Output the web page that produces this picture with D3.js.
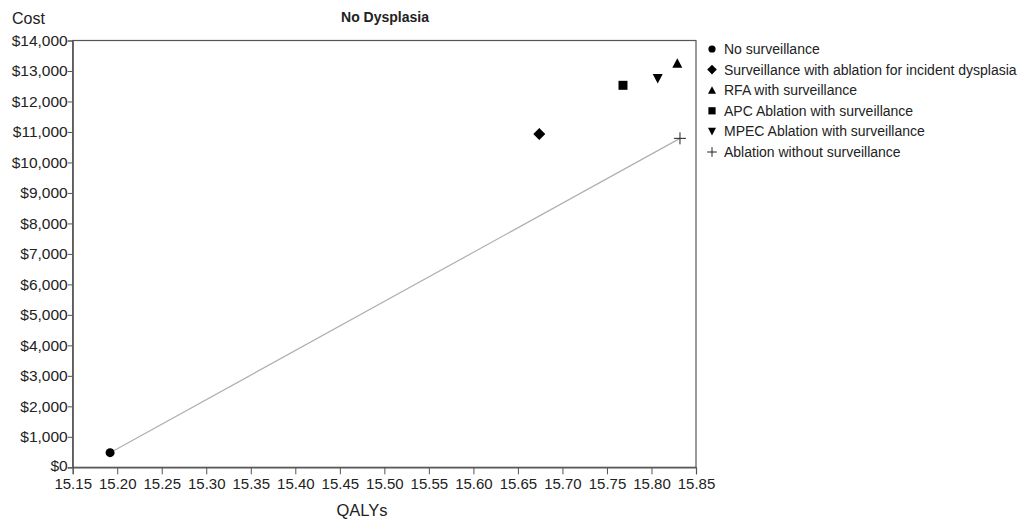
<!DOCTYPE html>
<html>
<head>
<meta charset="utf-8">
<script src="https://cdn.jsdelivr.net/npm/d3@7"></script>
<style>
  body { margin: 0; background: #fff; }
  text { font-family: "Liberation Sans", Arial, sans-serif; fill: #222; }
</style>
</head>
<body>
<div id="vis"></div>
<script>
// Frame
const FRAME_WIDTH = 1028;
const FRAME_HEIGHT = 519;
const MARGINS = {left: 72.7, right: 1028 - 696, top: 40.5, bottom: 519 - 467.3};

const VIS_WIDTH = FRAME_WIDTH - MARGINS.left - MARGINS.right;
const VIS_HEIGHT = FRAME_HEIGHT - MARGINS.top - MARGINS.bottom;

// Data
const strategies = ["No surveillance", "Surveillance with ablation for incident dysplasia",
                    "RFA with surveillance", "APC Ablation with surveillance",
                    "MPEC Ablation with surveillance", "Ablation without surveillance"];
const symbols = ["circle", "diamond", "triangleUp", "square", "triangleDown", "plus"];
const qalys = [15.192, 15.674, 15.829, 15.768, 15.807, 15.832];
const costs = [480, 10930, 13250, 12530, 12750, 10790];
// frontier line: no surveillance -> ablation without surveillance
const frontier = [0, 5];

const xTicks = [15.15, 15.20, 15.25, 15.30, 15.35, 15.40, 15.45, 15.50, 15.55, 15.60, 15.65, 15.70, 15.75, 15.80, 15.85];
const yTicks = [0, 1000, 2000, 3000, 4000, 5000, 6000, 7000, 8000, 9000, 10000, 11000, 12000, 13000, 14000];

const FRAME = d3.select("#vis")
                .append("svg")
                  .attr("width", FRAME_WIDTH)
                  .attr("height", FRAME_HEIGHT);

const X_SCALE = d3.scaleLinear()
                  .domain([15.15, 15.85])
                  .range([0, VIS_WIDTH]);

const Y_SCALE = d3.scaleLinear()
                  .domain([0, 14000])
                  .range([VIS_HEIGHT, 0]);

const G = FRAME.append("g")
               .attr("transform", "translate(" + MARGINS.left + "," + MARGINS.top + ")");

// box
G.append("rect")
   .attr("x", 0).attr("y", 0)
   .attr("width", VIS_WIDTH).attr("height", VIS_HEIGHT)
   .attr("fill", "none")
   .attr("stroke", "#555")
   .attr("stroke-width", 1.2);

// x axis
const xAxis = G.append("g")
   .attr("transform", "translate(0," + VIS_HEIGHT + ")")
   .call(d3.axisBottom(X_SCALE).tickValues(xTicks).tickFormat(d3.format(".2f")).tickSize(7).tickPadding(4));
xAxis.selectAll("text").attr("font-size", "15px").attr("fill", "#222");

// y axis
const yAxis = G.append("g")
   .call(d3.axisLeft(Y_SCALE).tickValues(yTicks).tickFormat(d => "$" + d3.format(",")(d)).tickSize(5).tickPadding(0));
yAxis.selectAll("text").attr("font-size", "15.5px").attr("fill", "#222");
yAxis.selectAll(".tick text").filter(d => d === 0).attr("dy", "0.2em");

[xAxis, yAxis].forEach(a => {
  a.select(".domain").attr("stroke", "#555").attr("stroke-width", 1.2);
  a.selectAll(".tick line").attr("stroke", "#555");
  a.attr("font-family", null);
});

// frontier line
G.append("line")
   .attr("x1", X_SCALE(qalys[frontier[0]])).attr("y1", Y_SCALE(costs[frontier[0]]))
   .attr("x2", X_SCALE(qalys[frontier[1]])).attr("y2", Y_SCALE(costs[frontier[1]]))
   .attr("stroke", "#b0b0b0")
   .attr("stroke-width", 1.2);

function symbolPath(name) {
  if (name === "plus") return "M-6,0H6M0,-6V6";
  if (name === "diamond") return "M0,-6L6,0L0,6L-6,0Z";
  if (name === "triangleUp") return "M0,-5L5,4.5L-5,4.5Z";
  if (name === "triangleDown") return "M0,5L5,-4.5L-5,-4.5Z";
  if (name === "square") return "M-4.5,-4.5H4.5V4.5H-4.5Z";
  return d3.symbol().type(d3.symbolCircle).size(64)();
}

function drawMarker(sel, name, scale) {
  const p = sel.append("path")
     .attr("d", symbolPath(name))
     .attr("transform", "scale(" + scale + ")");
  if (name === "plus") {
    p.attr("fill", "none").attr("stroke", "#222").attr("stroke-width", 1 / scale);
  } else {
    p.attr("fill", "#000");
  }
}

// points
strategies.forEach((s, i) => {
  const g = G.append("g")
     .attr("transform", "translate(" + X_SCALE(qalys[i]) + "," + Y_SCALE(costs[i]) + ")");
  drawMarker(g, symbols[i], 1);
});

// legend
const LEGEND = FRAME.append("g").attr("transform", "translate(712,49)");
strategies.forEach((s, i) => {
  const row = LEGEND.append("g").attr("transform", "translate(0," + (i * 20.6) + ")");
  drawMarker(row, symbols[i], 0.8);
  row.append("text")
     .attr("x", 12)
     .attr("y", 5)
     .attr("font-size", "14px")
     .text(s);
});

// titles
FRAME.append("text")
   .attr("x", 385).attr("y", 22)
   .attr("text-anchor", "middle")
   .attr("font-size", "14px")
   .attr("font-weight", "bold")
   .text("No Dysplasia");

FRAME.append("text")
   .attr("x", 12).attr("y", 24)
   .attr("font-size", "16px")
   .text("Cost");

FRAME.append("text")
   .attr("x", 362).attr("y", 516)
   .attr("text-anchor", "middle")
   .attr("font-size", "16.5px")
   .text("QALYs");
</script>
</body>
</html>
